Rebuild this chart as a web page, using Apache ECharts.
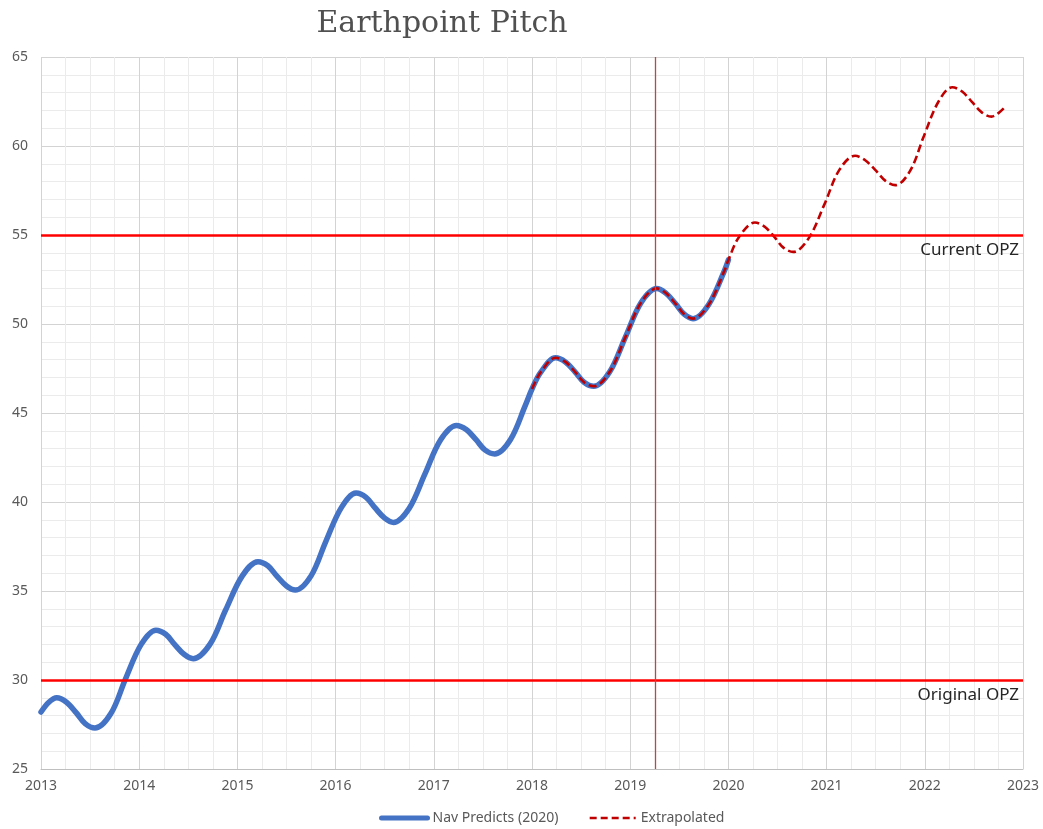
<!DOCTYPE html>
<html>
<head>
<meta charset="utf-8">
<script src="https://cdn.jsdelivr.net/npm/echarts@6/dist/echarts.min.js"></script>
<style>
  html, body { margin: 0; padding: 0; background: #ffffff; }
  #chart { width: 1043px; height: 829px; }
</style>
</head>
<body>
<div id="chart"></div>
<script>
// Nav Predicts (2020): decimal year and pitch value
const navYears = [
  2013.00, 2013.08, 2013.16, 2013.26, 2013.36, 2013.45, 2013.55,
  2013.71, 2013.86, 2014.02, 2014.17, 2014.27, 2014.36, 2014.46, 2014.55,
  2014.72, 2014.88, 2015.05, 2015.21, 2015.31, 2015.40, 2015.50, 2015.59,
  2015.75, 2015.90, 2016.06, 2016.21, 2016.31, 2016.40, 2016.50, 2016.59,
  2016.75, 2016.91, 2017.07, 2017.23, 2017.33, 2017.43, 2017.52, 2017.62,
  2017.78, 2017.93, 2018.00, 2018.09, 2018.24, 2018.34, 2018.44, 2018.53, 2018.63,
  2018.79, 2018.95, 2019.11, 2019.27, 2019.36, 2019.46, 2019.55, 2019.64,
  2019.80, 2019.96, 2020.00
];
const navValues = [
  28.20, 28.75, 29.00, 28.75, 28.15, 27.55, 27.30,
  28.10, 30.05, 32.00, 32.80, 32.57, 32.00, 31.43, 31.20,
  32.00, 33.93, 35.85, 36.65, 36.42, 35.85, 35.28, 35.05,
  35.85, 37.78, 39.70, 40.50, 40.26, 39.68, 39.09, 38.85,
  39.65, 41.58, 43.50, 44.30, 44.07, 43.50, 42.93, 42.70,
  43.50, 45.40, 46.35, 47.30, 48.10, 47.87, 47.30, 46.73, 46.50,
  47.30, 49.25, 51.20, 52.00, 51.75, 51.15, 50.55, 50.30,
  51.10, 53.00, 53.60
];

// Extrapolated: decimal year and pitch value
const extYears = [
  2018.00, 2018.09, 2018.24, 2018.34, 2018.44, 2018.53, 2018.63,
  2018.79, 2018.95, 2019.11, 2019.27, 2019.36, 2019.46, 2019.55, 2019.64,
  2019.80, 2019.96, 2020.00, 2020.11, 2020.27, 2020.37, 2020.47, 2020.56, 2020.66,
  2020.82, 2020.98, 2021.13, 2021.29, 2021.39, 2021.50, 2021.60, 2021.70,
  2021.85, 2021.99, 2022.14, 2022.28, 2022.38, 2022.48, 2022.58, 2022.68,
  2022.75, 2022.82
];
const extValues = [
  46.35, 47.30, 48.10, 47.87, 47.30, 46.73, 46.50,
  47.30, 49.25, 51.20, 52.00, 51.75, 51.15, 50.55, 50.30,
  51.10, 53.00, 53.60, 54.90, 55.70, 55.46, 54.88, 54.29, 54.05,
  54.84, 56.75, 58.66, 59.45, 59.21, 58.63, 58.04, 57.80,
  58.60, 60.55, 62.50, 63.30, 63.06, 62.48, 61.89, 61.65,
  61.85, 62.20
];

// Operating zone levels and the marker year
const opzLevels = [55, 30];
const opzLabels = ['Current OPZ', 'Original OPZ'];
const markerYear = 2019.25;

// Axis ranges and tick spacing
const xRange = [2013, 2023];
const yRange = [25, 65];
const xStep = 1;
const yStep = 5;

const pair = (xs, ys) => xs.map((x, i) => [x, ys[i]]);

const chart = echarts.init(document.getElementById('chart'), null, { renderer: 'canvas' });

const labelFont = '"Noto Sans", "Open Sans", sans-serif';
const curveSmooth = 0.35;

chart.setOption({
  animation: false,
  backgroundColor: '#ffffff',
  title: {
    text: 'Earthpoint Pitch',
    left: 437,
    top: 4,
    textAlign: 'center',
    textStyle: {
      fontFamily: '"DejaVu Serif", serif',
      fontSize: 30,
      fontWeight: 'normal',
      color: '#505050'
    }
  },
  grid: { left: 41, right: 20, top: 57, bottom: 60, containLabel: false },
  legend: {
    left: 374,
    top: 806,
    itemWidth: 46,
    itemHeight: 4,
    itemGap: 30,
    itemStyle: { opacity: 0 },
    textStyle: { fontFamily: labelFont, fontSize: 14, color: '#595959' },
    data: [
      { name: 'Nav Predicts (2020)', lineStyle: { width: 5, color: '#4472c4' } },
      { name: 'Extrapolated', lineStyle: { width: 2.6, color: '#c00000', type: [7, 4] } }
    ]
  },
  xAxis: {
    type: 'value',
    min: xRange[0],
    max: xRange[1],
    interval: xStep,
    axisLine: { show: true, lineStyle: { color: '#bfbfbf', width: 1 } },
    axisTick: { show: false },
    axisLabel: {
      margin: 10,
      fontFamily: labelFont,
      fontSize: 14,
      color: '#595959',
      formatter: v => String(v)
    },
    splitLine: { show: true, lineStyle: { color: '#d3d3d3', width: 1 } },
    minorTick: { show: false, splitNumber: 4 },
    minorSplitLine: { show: true, lineStyle: { color: '#ebebeb', width: 1 } }
  },
  yAxis: {
    type: 'value',
    min: yRange[0],
    max: yRange[1],
    interval: yStep,
    axisLine: { show: false },
    axisTick: { show: false },
    axisLabel: {
      margin: 13,
      fontFamily: labelFont,
      fontSize: 14,
      color: '#595959'
    },
    splitLine: { show: true, lineStyle: { color: '#d3d3d3', width: 1 } },
    minorTick: { show: false, splitNumber: 5 },
    minorSplitLine: { show: true, lineStyle: { color: '#ebebeb', width: 1 } }
  },
  series: [
    {
      name: 'Nav Predicts (2020)',
      type: 'line',
      data: pair(navYears, navValues),
      smooth: curveSmooth,
      symbol: 'none',
      z: 2,
      lineStyle: { color: '#4472c4', width: 5.5, cap: 'round', join: 'round' },
      itemStyle: { color: '#4472c4' }
    },
    {
      name: 'Extrapolated',
      type: 'line',
      data: pair(extYears, extValues),
      smooth: curveSmooth,
      symbol: 'none',
      z: 3,
      lineStyle: { color: '#c00000', width: 2.6, type: [8, 4] },
      itemStyle: { color: '#c00000' }
    },
    {
      name: 'reference lines',
      type: 'line',
      data: [],
      z: 4,
      markLine: {
        silent: true,
        symbol: 'none',
        animation: false,
        data: [
          ...opzLevels.map((v, i) => ({
            yAxis: v,
            lineStyle: { color: '#ff0000', width: 2.5, type: 'solid' },
            label: {
              show: true,
              position: 'insideEndBottom',
              formatter: opzLabels[i],
              distance: [4, 7],
              fontFamily: labelFont,
              fontSize: 17,
              color: '#262626'
            }
          })),
          {
            xAxis: markerYear,
            lineStyle: { color: '#b8484a', width: 1.3, type: 'solid' },
            label: { show: false }
          }
        ]
      }
    }
  ]
});
</script>
</body>
</html>
